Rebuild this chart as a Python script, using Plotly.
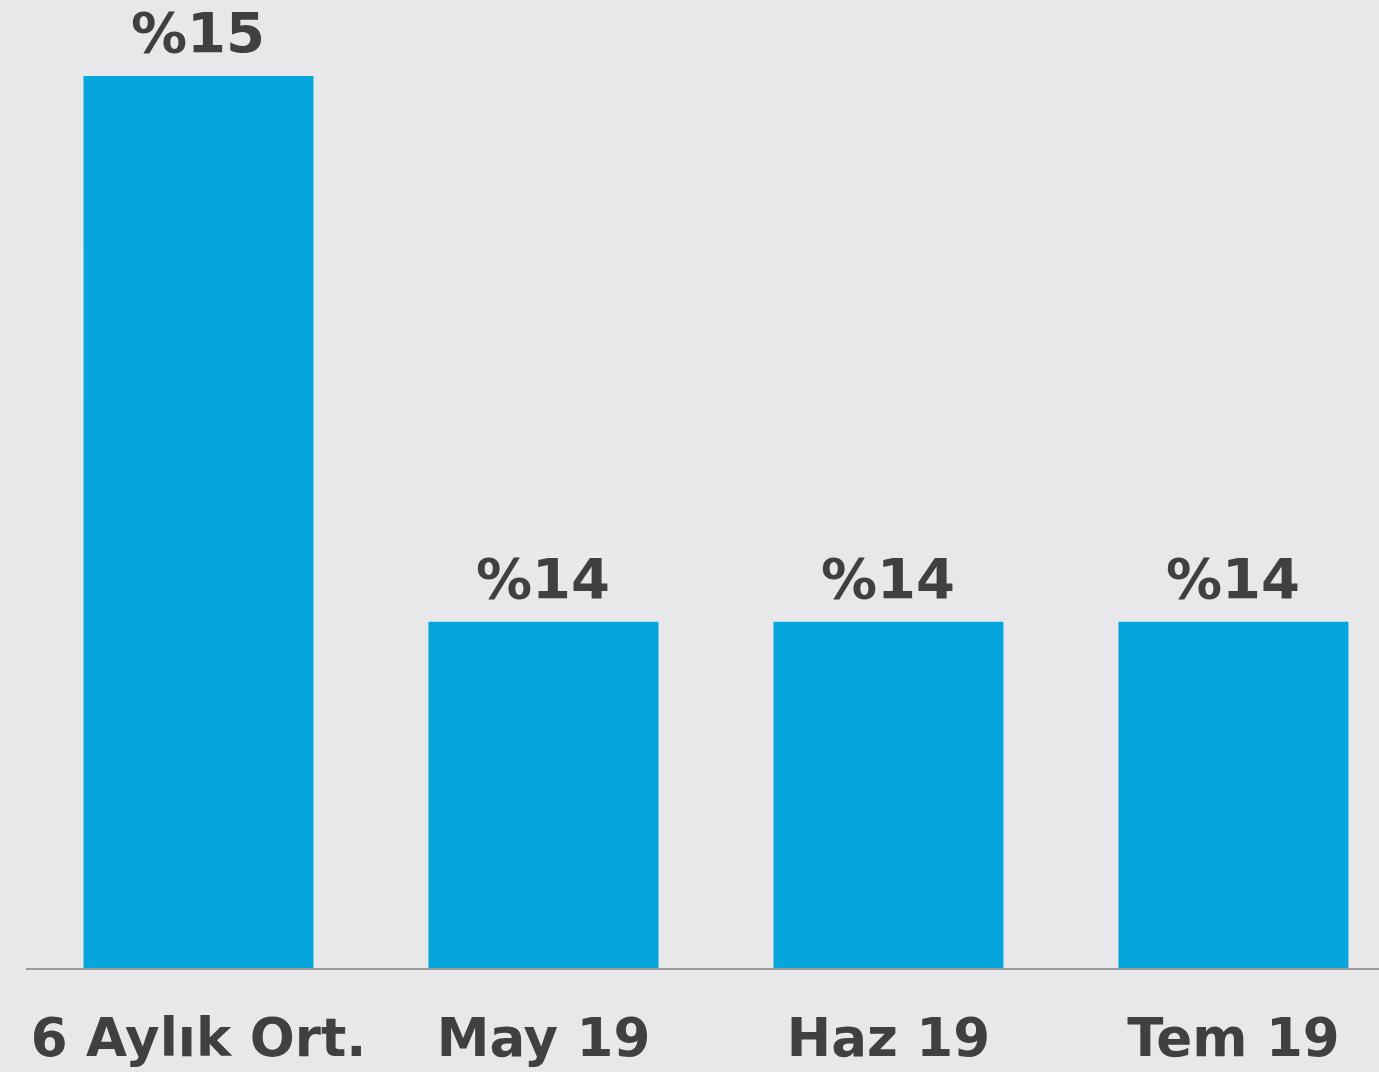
import plotly.graph_objects as go

categories = ["6 Aylık Ort.", "May 19", "Haz 19", "Tem 19"]
values = [15.0, 14.0, 14.0, 14.0]
value_labels = ["%15", "%14", "%14", "%14"]

BAR = "#05a6dc"
TXT = "#404040"
BG = "#e8e8ea"
FONT = "DejaVu Sans"

fig = go.Figure(
    go.Bar(
        x=categories,
        y=values,
        marker=dict(color=BAR, line=dict(width=0)),
        width=2 / 3,
        hoverinfo="x+y",
    )
)

for c, v, t in zip(categories, values, value_labels):
    fig.add_annotation(
        x=c, y=v, text=t, showarrow=False,
        xanchor="center", yanchor="bottom", yshift=9,
        font=dict(family=FONT, size=56, color=TXT, weight="bold"),
    )

# very faint diagonal light streaks in the background
streaks = [
    "M 0.35 1.08 L 0.5 1.08 L 1.02 0.62 L 1.02 0.56 Z",
    "M -0.02 0.78 L -0.02 0.62 L 0.45 0.38 L 0.55 0.40 Z",
    "M 0.58 1.08 L 0.64 1.08 L 1.02 0.82 L 1.02 0.79 Z",
]
for p in streaks:
    fig.add_shape(type="path", path=p, xref="paper", yref="paper",
                  fillcolor="rgba(255,255,255,0.10)", line=dict(width=0), layer="below")

fig.update_layout(
    width=1379,
    height=1072,
    margin=dict(l=26, r=0, t=0, b=104),
    paper_bgcolor=BG,
    plot_bgcolor="rgba(0,0,0,0)",
    showlegend=False,
    bargap=1 / 3,
    xaxis=dict(
        type="category",
        range=[-0.5, 3.422],
        showline=True,
        linecolor="#9a9a9a",
        linewidth=2,
        ticks="",
        showgrid=False,
        zeroline=False,
        tickfont=dict(family=FONT, size=53, color=TXT, weight="bold"),
        ticklabelstandoff=22,
    ),
    yaxis=dict(
        range=[13.366, 15.139],
        visible=False,
        showgrid=False,
        zeroline=False,
    ),
)

fig.write_html(
    "out.html",
    config={"displayModeBar": False},
    post_script="document.body.style.margin='0';document.body.style.overflow='hidden';",
)
